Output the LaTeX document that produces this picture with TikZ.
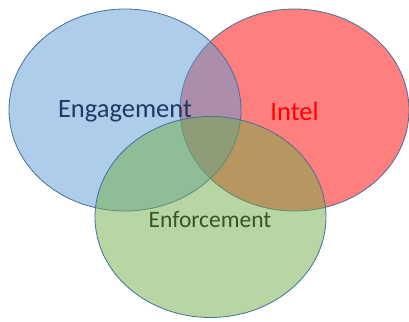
\documentclass[tikz,border=0pt]{standalone}
\usepackage{fontspec}
\setmainfont{Carlito}
\definecolor{engblue}{HTML}{5B9BD5}
\definecolor{intred}{HTML}{FF0000}
\definecolor{enfgreen}{HTML}{70AD47}
\definecolor{rimblue}{HTML}{41719C}
\definecolor{engtext}{HTML}{1F3864}
\definecolor{enftext}{HTML}{375623}

\begin{document}
\begin{tikzpicture}[x=1pt, y=1pt,
        setfill/.style={draw=rimblue, line width=0.8pt, fill opacity=0.5},
        setlabel/.style={inner sep=0pt}]
        \useasboundingbox (0,0) rectangle (409,321);
        % Sets
        \filldraw[setfill, fill=intred] (294.5,211) ellipse [x radius=114.5, y radius=101];
        \filldraw[setfill, fill=engblue] (125,211) ellipse [x radius=116, y radius=101];
        \filldraw[setfill, fill=enfgreen] (210.5,104) ellipse [x radius=115.5, y radius=100.5];
        
        % Labels
        \node[setlabel, text=engtext, font=\fontsize{26.5}{30}\selectfont] (engagement) at (125,210) {Engagement};
        \node[setlabel, text=intred, font=\fontsize{26.5}{30}\selectfont] (intel) at (294.5,210) {Intel};
        \node[setlabel, text=enftext, font=\fontsize{23.5}{28}\selectfont] (enforcement) at (210,101) {Enforcement};
    \end{tikzpicture}
\end{document}
